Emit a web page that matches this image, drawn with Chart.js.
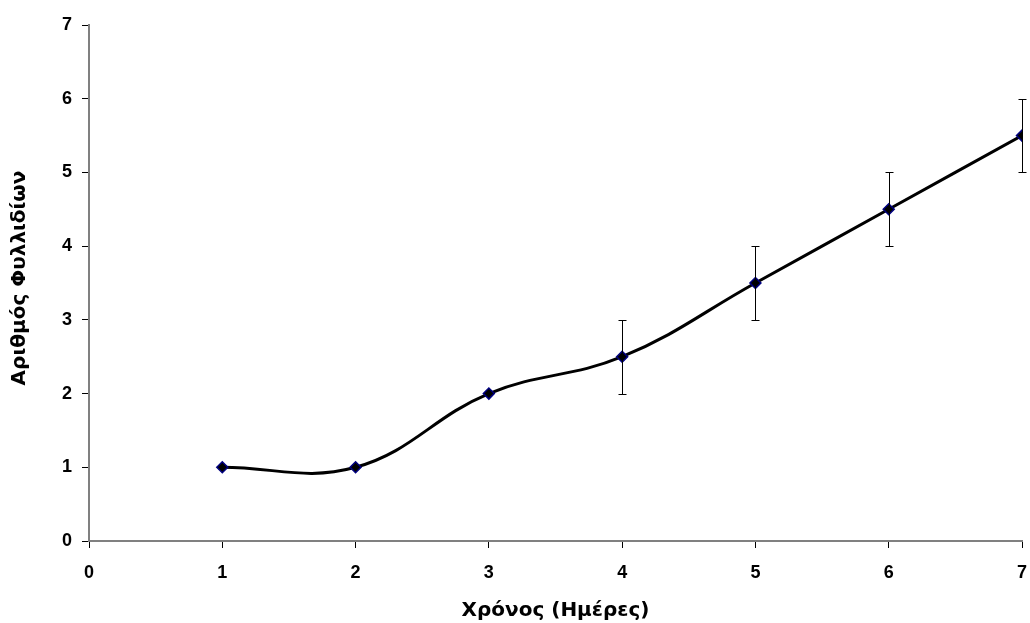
<!DOCTYPE html>
<html>
<head>
<meta charset="utf-8">
<script src="https://cdn.jsdelivr.net/npm/chart.js@4/dist/chart.umd.min.js"></script>
<style>
  html, body { margin: 0; padding: 0; background: #fff; }
  #wrap { width: 1030px; height: 623px; position: relative; }
</style>
</head>
<body>
<div id="wrap"><canvas id="c"></canvas></div>
<script>
// values
const days = [1, 2, 3, 4, 5, 6, 7];
const leaves = [1, 1, 2, 2.5, 3.5, 4.5, 5.5];
const leavesErr = [0, 0, 0, 0.5, 0.5, 0.5, 0.5];
const xTicks = [0, 1, 2, 3, 4, 5, 6, 7];
const yTicks = [0, 1, 2, 3, 4, 5, 6, 7];
const xTitle = 'Χρόνος (Ημέρες)';
const yTitle = 'Αριθμός Φυλλιδίων';

const TICK_FONT = '"Liberation Sans", Arial, sans-serif';
const TITLE_FONT = '"DejaVu Sans", Verdana, sans-serif';

const errorBars = {
    id: 'errorBars',
    afterDatasetsDraw(chart) {
        const { ctx, scales } = chart;
        ctx.save();
        ctx.strokeStyle = '#000';
        ctx.lineWidth = 1;
        days.forEach((d, i) => {
            const e = leavesErr[i];
            if (!e) return;
            const x = Math.round(scales.x.getPixelForValue(d)) + 0.5;
            const top = Math.round(scales.y.getPixelForValue(leaves[i] + e)) + 0.5;
            const bot = Math.round(scales.y.getPixelForValue(leaves[i] - e)) + 0.5;
            ctx.beginPath();
            ctx.moveTo(x, top); ctx.lineTo(x, bot);
            ctx.moveTo(x - 4, top); ctx.lineTo(x + 4, top);
            ctx.moveTo(x - 4, bot); ctx.lineTo(x + 4, bot);
            ctx.stroke();
        });
        ctx.restore();
    },
};

// axis titles, centred on the plot area like the original
const axisTitles = {
    id: 'axisTitles',
    afterDraw(chart) {
        const { ctx, chartArea } = chart;
        const cx = (chartArea.left + chartArea.right) / 2;
        const cy = (chartArea.top + chartArea.bottom) / 2 - 5;
        ctx.save();
        ctx.fillStyle = '#000';
        ctx.font = 'bold 20px ' + TITLE_FONT;
        ctx.textAlign = 'center';
        ctx.textBaseline = 'alphabetic';
        ctx.fillText(xTitle, cx, 616);
        ctx.translate(25, cy);
        ctx.rotate(-Math.PI / 2);
        ctx.fillText(yTitle, 0, 0);
        ctx.restore();
    },
};

new Chart(document.getElementById('c'), {
    type: 'line',
    data: {
        datasets: [{
            data: days.map((d, i) => ({ x: d, y: leaves[i] })),
            borderColor: '#000',
            borderWidth: 3,
            tension: 0.4,
            pointStyle: 'rectRot',
            pointRadius: 5.5,
            pointBackgroundColor: '#000',
            pointBorderColor: '#000080',
            pointBorderWidth: 1.5,
            fill: false,
        }],
    },
    options: {
        responsive: true,
        maintainAspectRatio: false,
        animation: false,
        layout: { padding: { top: 25, right: 8, left: 0, bottom: 0 } },
        plugins: { legend: { display: false }, tooltip: { enabled: false } },
        scales: {
            x: {
                type: 'linear',
                min: 0,
                max: 7,
                afterBuildTicks: (s) => { s.ticks = xTicks.map((v) => ({ value: v })); },
                afterFit: (s) => {
                    s.height = 623 - 541;
                    s.paddingLeft = 0;
                    s.paddingRight = 0;
                },
                grid: { drawOnChartArea: false, drawTicks: true, tickLength: 7, color: '#000' },
                border: { color: '#808080', width: 2 },
                ticks: { color: '#000', padding: 14, font: { family: TICK_FONT, size: 18, weight: 'bold' } },
            },
            y: {
                min: 0,
                max: 7,
                afterBuildTicks: (s) => { s.ticks = yTicks.map((v) => ({ value: v })); },
                afterFit: (s) => { s.width = 89; },
                grid: { drawOnChartArea: false, drawTicks: true, tickLength: 7, color: '#000' },
                border: { color: '#808080', width: 2 },
                ticks: { color: '#000', padding: 10, font: { family: TICK_FONT, size: 18, weight: 'bold' } },
            },
        },
    },
    plugins: [errorBars, axisTitles],
});
</script>
</body>
</html>
